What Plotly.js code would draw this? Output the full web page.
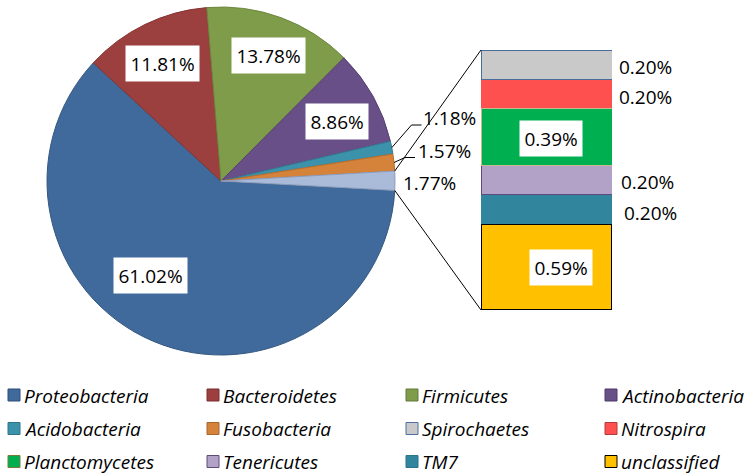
<!DOCTYPE html>
<html><head><meta charset="utf-8">
<script src="https://cdn.plot.ly/plotly-3.0.1.min.js"></script>
<style>html,body{margin:0;padding:0;background:#fff}#chart{width:751px;height:475px}</style>
</head><body><div id="chart"></div>
<script>
// ---------------- data ----------------
const pieLabels = ['Proteobacteria','Bacteroidetes','Firmicutes','Actinobacteria','Acidobacteria','Fusobacteria','Other'];
const pieValues = [61.02, 11.81, 13.78, 8.86, 1.18, 1.57, 1.77];
const barNames  = ['Spirochaetes','Nitrospira','Planctomycetes','Tenericutes','TM7','unclassified']; // top -> bottom
const barValues = [0.20, 0.20, 0.39, 0.20, 0.20, 0.59];
const legendNames = ['Proteobacteria','Bacteroidetes','Firmicutes','Actinobacteria',
                     'Acidobacteria','Fusobacteria','Spirochaetes','Nitrospira',
                     'Planctomycetes','Tenericutes','TM7','unclassified'];

// ---------------- styles ----------------
const W = 751, H = 475;
const pieColors = ['#406A9C','#9B403E','#7E9C4A','#684F87','#3C92AA','#D5833A','#AABBD9'];
const pieLines  = ['#34587F','#85322F','#6C873D','#574172','#327C91','#B86E2E','#8C9DBD'];
const barColors = ['#C9C9C9','#FF5050','#00B050','#B3A2C7','#31859C','#FFC000'];
const barLines  = ['#4A6C9B','#FF5050','#C9B98C','#604A7B','#31859C','#000000'];
const barLineW  = [1, 0, 1, 1, 0, 1.5];
const legendFill = pieColors.slice(0,6).concat(barColors);
const legendLine = ['#2F4F77','#7A2E2C','#62793A','#4E3B68','#2F7488','#A8652C',
                    '#4F6FA0','#B33B3B','#7C7A3A','#604A7B','#2C7488','#000000'];

// pie geometry (pixels)
const pieBox = {l: 47, r: 395, t: 7, b: 355};
const rotation = 93.1;
// bar geometry (pixels)
const barBox = {l: 481, r: 612, t: 50, b: 310};

const px = x => x / W, py = y => 1 - y / H;
const numFont = {family: 'Open Sans, Liberation Sans, sans-serif', size: 19, color: '#000'};
const legFont = {family: 'Open Sans, Liberation Sans, sans-serif', size: 19, color: '#000', style: 'italic'};
const fmt = v => v.toFixed(2) + '%';

// ---------------- traces ----------------
const traces = [];
traces.push({
  type: 'pie', labels: pieLabels, values: pieValues, sort: false, direction: 'clockwise',
  rotation: rotation, textinfo: 'none', hoverinfo: 'label+percent', showlegend: false,
  marker: {colors: pieColors, line: {color: pieLines, width: 1}},
  domain: {x: [px(pieBox.l), px(pieBox.r)], y: [py(pieBox.b), py(pieBox.t)]}
});
for (let i = barNames.length - 1; i >= 0; i--) {
  traces.push({
    type: 'bar', x: [0], y: [barValues[i]], name: barNames[i], width: 1,
    marker: {color: barColors[i], line: {color: barLines[i], width: barLineW[i]}},
    showlegend: false, hoverinfo: 'name+y'
  });
}
const barTotal = barValues.reduce((a, b) => a + b, 0);

// ---------------- annotations ----------------
const annotations = [];
// pie labels: [cx/left, cy, mode]  (box = centred with white box, left = plain text anchored left)
const pieLabelPos = [[150, 275, 'box'], [162, 63, 'box'], [268, 55, 'box'], [336.5, 121.5, 'box'],
                     [421, 118, 'left'], [415.5, 151, 'left'], [400.5, 183, 'left']];
pieValues.forEach((v, i) => {
  const p = pieLabelPos[i];
  const a = {text: fmt(v), xref: 'paper', yref: 'paper', x: px(p[0]), y: py(p[1]),
             showarrow: false, font: numFont, yanchor: 'middle'};
  if (p[2] === 'box') { a.xanchor = 'center'; a.bgcolor = '#fff'; a.borderpad = 4.5; }
  else { a.xanchor = 'left'; }
  annotations.push(a);
});
// bar labels
const barInside = [false, false, true, false, false, true];
const barShift = [[5, -2.5], [5, -3], [4, -2], [7, -1.5], [10, -3.5], [14, -0.5]];
let cum = barTotal;
barValues.forEach((v, i) => {
  const mid = cum - v / 2; cum -= v;
  const a = {text: fmt(v), xref: 'x', yref: 'y', y: mid, showarrow: false, font: numFont,
             yanchor: 'middle', xshift: barShift[i][0], yshift: barShift[i][1]};
  if (barInside[i]) { a.x = 0; a.xanchor = 'center'; a.bgcolor = '#fff'; a.borderpad = 4.5; }
  else { a.x = 0.5; a.xanchor = 'left'; }
  annotations.push(a);
});

// ---------------- shapes ----------------
const shapes = [];
const total = pieValues.reduce((a, b) => a + b, 0);
const cx = (pieBox.l + pieBox.r) / 2, cy = (pieBox.t + pieBox.b) / 2;
const R = Math.min(pieBox.r - pieBox.l, pieBox.b - pieBox.t) / 2;
const edge = deg => [cx + R * Math.sin(deg * Math.PI / 180), cy - R * Math.cos(deg * Math.PI / 180)];
const starts = []; let acc = 0;
pieValues.forEach(v => { starts.push(rotation + acc / total * 360); acc += v; });
const sliceMid = i => starts[i] + pieValues[i] / total * 180;
const line = (x0, y0, x1, y1) => shapes.push({type: 'line', xref: 'paper', yref: 'paper',
  x0: px(x0), y0: py(y0), x1: px(x1), y1: py(y1), line: {color: '#000', width: 1}});
// connectors from the "Other" slice to the bar
const oi = pieValues.length - 1;
const pTop = edge(starts[oi]), pBot = edge(starts[oi] + pieValues[oi] / total * 360);
line(pTop[0], pTop[1], barBox.l, barBox.t);
line(pBot[0], pBot[1], barBox.l, barBox.b);
// leader lines for small slices
const lead4 = edge(sliceMid(4)), lead5 = edge(sliceMid(5));
line(lead4[0], lead4[1], 411.5, 125); line(411.5, 125, 421.5, 125);
line(lead5[0], lead5[1], 405, 157.5); line(405, 157.5, 415, 157.5);

// legend (manual grid, 4 columns x 3 rows)
const legCols = [8, 207, 406, 605], legRows = [395, 428.5, 461.5], sw = 12;
legendNames.forEach((n, i) => {
  const x = legCols[i % 4], y = legRows[Math.floor(i / 4)];
  shapes.push({type: 'rect', xref: 'paper', yref: 'paper', x0: px(x), x1: px(x + sw),
    y0: py(y + sw / 2), y1: py(y - sw / 2), fillcolor: legendFill[i],
    line: {color: legendLine[i], width: 1}});
  annotations.push({text: n, xref: 'paper', yref: 'paper', x: px(x + 15), y: py(y + 0.5),
    xanchor: 'left', yanchor: 'middle', showarrow: false, font: legFont, borderpad: 0});
});

const hidden = {visible: false, fixedrange: true};
const layout = {
  width: W, height: H, margin: {l: 0, r: 0, t: 0, b: 0},
  paper_bgcolor: '#fff', plot_bgcolor: 'rgba(0,0,0,0)',
  barmode: 'stack', bargap: 0, showlegend: false,
  xaxis: Object.assign({domain: [px(barBox.l), px(barBox.r)], range: [-0.5, 0.5]}, hidden),
  yaxis: Object.assign({domain: [py(barBox.b), py(barBox.t)], range: [0, barTotal]}, hidden),
  annotations: annotations, shapes: shapes
};
Plotly.newPlot('chart', traces, layout, {displayModeBar: false, staticPlot: true});
</script></body></html>
